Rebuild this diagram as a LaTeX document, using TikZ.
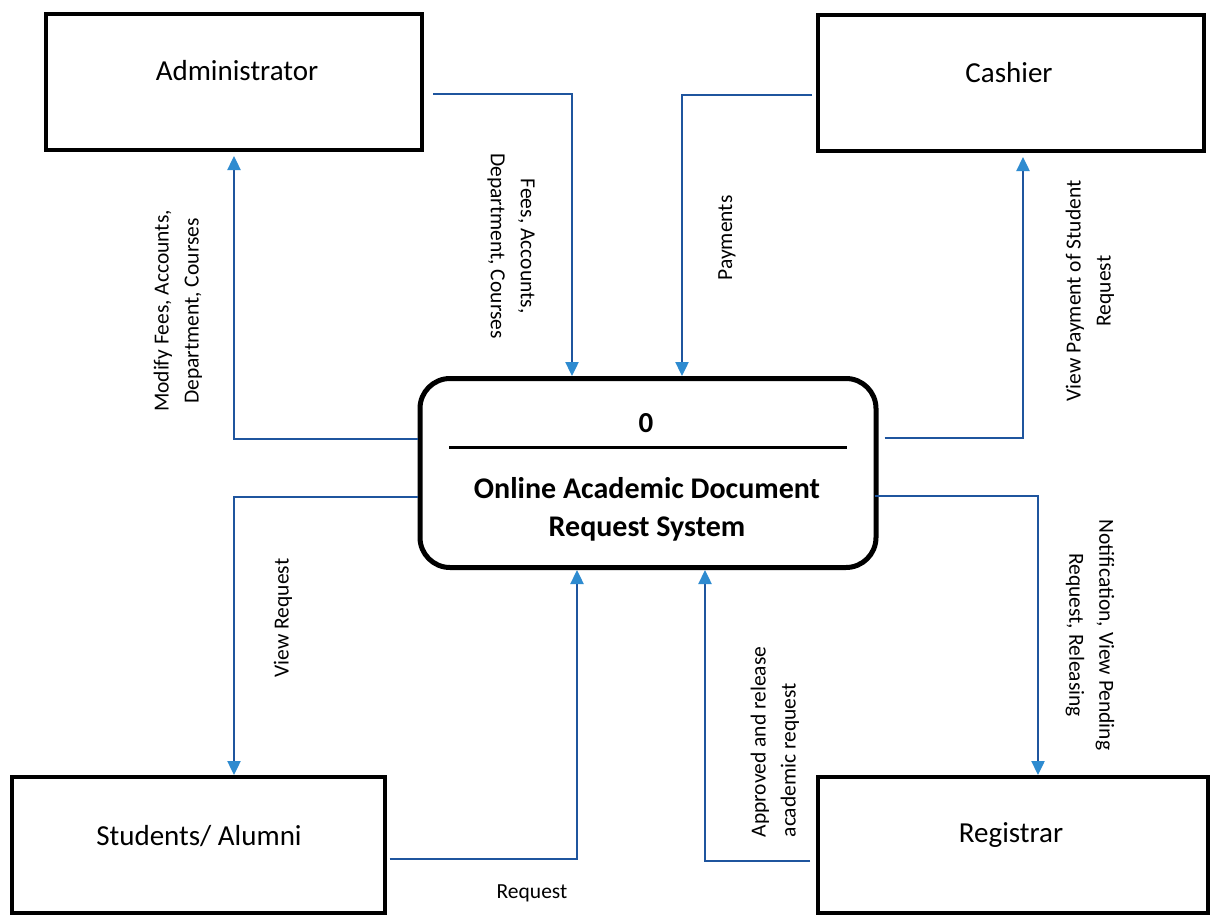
\documentclass[tikz,border=0pt]{standalone}
\usepackage{fontspec}
\setmainfont{Carlito}
\usetikzlibrary{arrows.meta}
\definecolor{flowline}{HTML}{1F559E}
\definecolor{flowtip}{HTML}{2E8BD0}
\tikzset{
  entity/.style={draw=black, line width=4pt, minimum width=#1, minimum height=136pt, inner sep=0pt},
  entitytext/.style={font=\fontsize{29}{34}\selectfont, inner sep=0pt},
  flow/.style={draw=flowline, line width=2.4pt, -{Triangle[width=13pt,length=14pt,color=flowtip]}},
  flowlabel/.style={font=\fontsize{21.5}{30}\selectfont, inner sep=0pt, align=center},
}
\begin{document}
\begin{tikzpicture}[x=1pt,y=-1pt]
\useasboundingbox (0,0) rectangle (1215,915);
\fill[white] (0,0) rectangle (1215,915);

% external entities
\node[entity=376pt] (admin) at (234,82) {};
\node[entitytext] (adminT) at (237,71) {Administrator};
\node[entity=386pt] (cash) at (1011,83) {};
\node[entitytext] (cashT) at (1009,73) {Cashier};
\node[entity=373pt] (stud) at (198,845) {};
\node[entitytext] (studT) at (199,836) {Students/ Alumni};
\node[entity=390pt] (reg) at (1013,845) {};
\node[entitytext] (regT) at (1011,835) {Registrar};

% process
\node[draw=black, line width=5pt, rounded corners=30pt, minimum width=456pt, minimum height=189pt, inner sep=0pt] (proc) at (648,473) {};
\node[font=\bfseries\fontsize{29}{32}\selectfont, inner sep=0pt] (procN) at (646,423) {0};
\coordinate (divL) at (449,447);
\coordinate (divR) at (847,447);
\draw[line width=3pt] (divL) -- (divR);
\node[font=\bfseries\fontsize{30}{38}\selectfont, align=center, inner sep=0pt] (procT) at (647,509) {Online Academic Document\\Request System};

% flows
\draw[flow] ([xshift=9pt,yshift=-12pt]admin.east) -| ([xshift=-76pt]proc.north);
\draw[flow] ([yshift=34pt]proc.west) -| ([yshift=-4pt]admin.south);
\draw[flow] ([xshift=-4pt,yshift=-12pt]cash.west) -| ([xshift=34pt]proc.north);
\draw[flow] ([xshift=6pt,yshift=35pt]proc.east) -| ([xshift=12pt,yshift=-4pt]cash.south);
\draw[flow] ([yshift=-24pt]proc.west) -| ([xshift=36pt]stud.north);
\draw[flow] ([xshift=3pt,yshift=-14pt]stud.east) -| ([xshift=-71pt]proc.south);
\draw[flow] ([xshift=-6pt,yshift=-16pt]reg.west) -| ([xshift=57pt]proc.south);
\draw[flow] ([xshift=-4pt,yshift=-23pt]proc.east) -| ([xshift=25pt]reg.north);

% labels
\node[flowlabel, rotate=-90] (l1) at (511,246) {Fees, Accounts,\\Department, Courses};
\node[flowlabel, rotate=90] (l2) at (178,311) {Modify Fees, Accounts,\\Department, Courses};
\node[flowlabel, rotate=90] (l3) at (727,238) {Payments};
\node[flowlabel, rotate=90] (l4) at (1090,291) {View Payment of Student\\Request};
\node[flowlabel, rotate=90] (l5) at (283,618) {View Request};
\node[flowlabel] (l6) at (532,893) {Request};
\node[flowlabel, rotate=90, align=left] (l7) at (775,742) {Approved and release\\academic request};
\node[flowlabel, rotate=-90] (l8) at (1090,635) {Notification, View Pending\\Request, Releasing};
\end{tikzpicture}
\end{document}
